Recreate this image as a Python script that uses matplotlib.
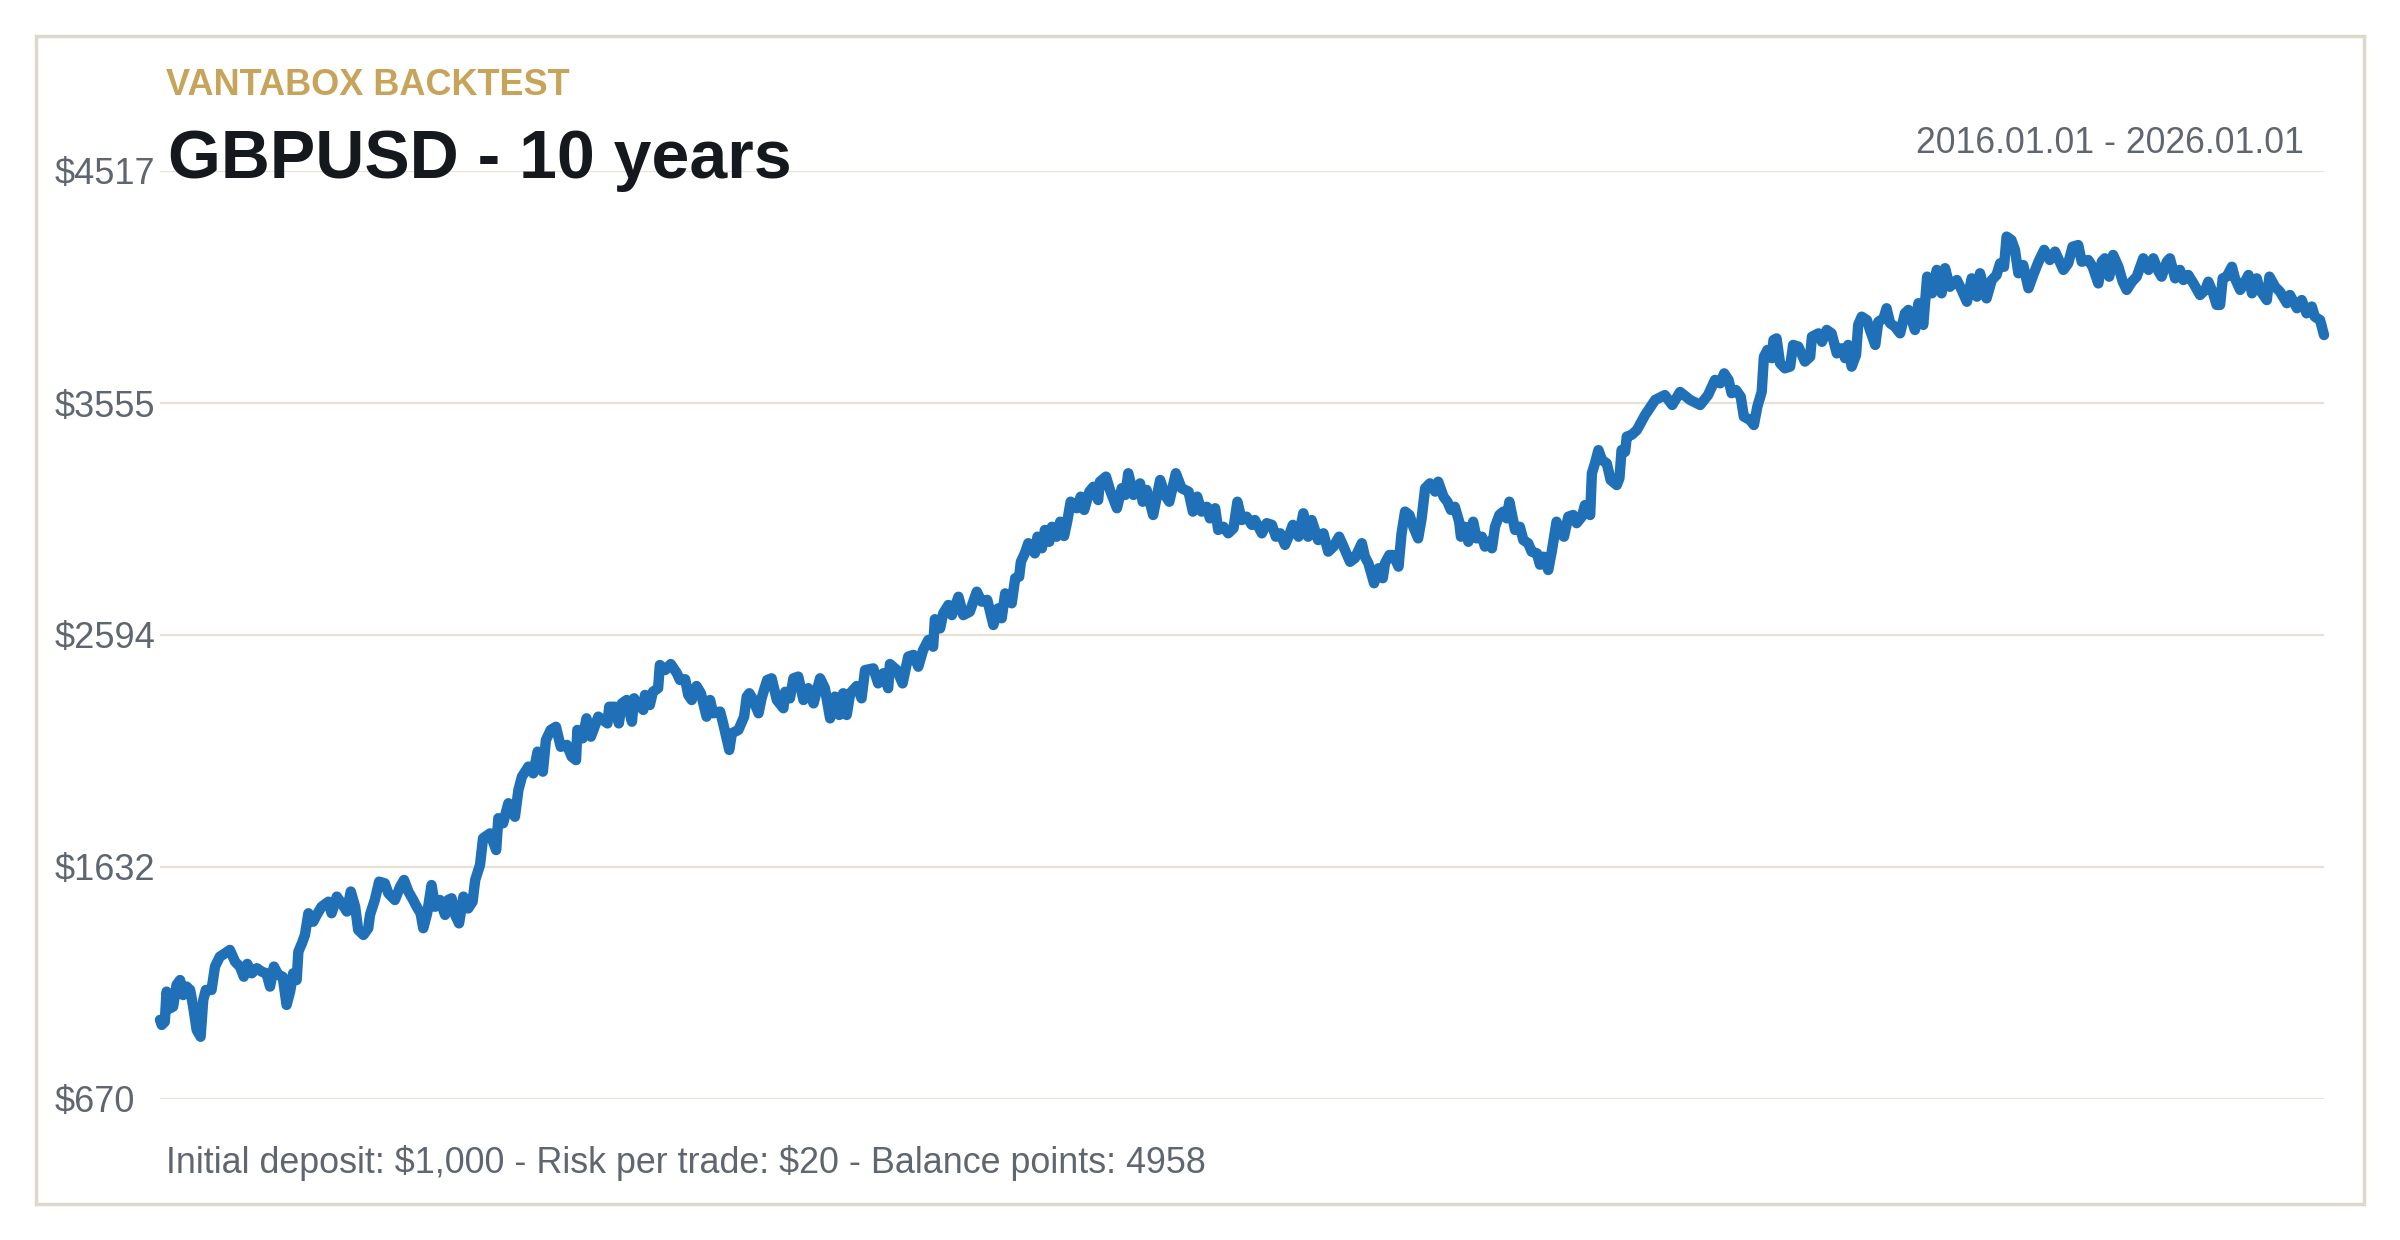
"""
GBPUSD backtest balance curve
"""

import matplotlib
matplotlib.use("Agg")
import matplotlib.pyplot as plt
from matplotlib.patches import Rectangle

plt.rcParams['font.family'] = ['Liberation Sans', 'DejaVu Sans']
plt.rcParams['text.parse_math'] = False   # keep the "$" signs literal

######################################
# data
######################################
trade_idx = [
    0, 4, 11, 15, 23, 30, 38, 46, 53, 61,
    69, 76, 84, 93, 99, 105, 118, 126, 137, 149,
    160, 172, 183, 192, 200, 210, 222, 233, 244, 252,
    261, 271, 281, 290, 298, 305, 313, 317, 325, 332,
    340, 351, 359, 370, 386, 393, 405, 416, 428, 437,
    447, 454, 466, 477, 481, 492, 502, 515, 523, 538,
    550, 559, 569, 580, 588, 597, 603, 612, 622, 630,
    641, 653, 660, 668, 676, 685, 695, 706, 716, 722,
    733, 740, 756,
    770, 775, 786, 798, 813, 821, 829, 844, 855, 865,
    877, 884, 895, 907, 918, 932, 943, 953, 956, 968,
    977, 987, 1004, 1015, 1025, 1029, 1042, 1051, 1058, 1069,
    1081, 1086, 1096, 1107, 1111, 1122, 1129, 1141, 1145, 1157,
    1170, 1184, 1191, 1203, 1210, 1218, 1229, 1239, 1252, 1260,
    1267, 1283, 1290, 1304, 1310, 1325, 1338, 1344, 1350, 1359,
    1371, 1378, 1386, 1391, 1401, 1413, 1428, 1432, 1443, 1451,
    1462, 1474, 1485, 1497, 1512, 1523, 1535, 1546, 1556, 1565,
    1573, 1581, 1596, 1607, 1615, 1634, 1645, 1657, 1668, 1672,
    1688, 1701, 1714, 1726, 1737, 1748, 1760, 1771, 1775, 1787,
    1794, 1806, 1814, 1829, 1840, 1855, 1871, 1882, 1895, 1909,
    1920,
    1928, 1936, 1951, 1959, 1968, 1972, 1981, 1989, 2004, 2010,
    2020, 2027, 2037, 2043, 2054, 2062, 2071, 2078, 2086, 2100,
    2109, 2117, 2129, 2138, 2149, 2153, 2167, 2176, 2192, 2203,
    2211, 2218, 2230, 2245, 2251, 2260, 2275, 2291, 2302, 2312,
    2327, 2340, 2356, 2366, 2376, 2386, 2398, 2405, 2417, 2424,
    2436, 2447, 2459, 2468, 2478, 2489, 2501, 2508, 2524, 2535,
    2547, 2556, 2566, 2577, 2585, 2595, 2608, 2619, 2630, 2638,
    2653, 2665, 2676, 2688, 2701, 2711, 2726, 2737,
    2753, 2760, 2768, 2781, 2791, 2801, 2806, 2816, 2825, 2837,
    2844, 2852, 2862, 2871, 2882, 2890, 2898, 2909, 2921, 2928,
    2940, 2949, 2957, 2966, 2976, 2980, 2989, 2997, 3008, 3016,
    3028, 3035, 3043, 3051, 3058, 3068, 3077, 3085, 3091, 3104,
    3115, 3123, 3134, 3142, 3154, 3161, 3169, 3180, 3188, 3199,
    3207, 3216, 3226, 3237, 3245, 3257, 3264, 3276, 3280, 3287,
    3295, 3303, 3314, 3323, 3337, 3343, 3348, 3356, 3360, 3371,
    3383,
    3402, 3425, 3447, 3464, 3482, 3505, 3528, 3546, 3562,
    3574, 3583, 3593, 3600, 3610, 3621, 3628, 3642, 3651, 3659,
    3669, 3674, 3682, 3692, 3696, 3703, 3711, 3722, 3734, 3741,
    3753, 3768, 3780, 3784, 3799, 3807, 3818, 3829, 3841, 3852,
    3860, 3867, 3875, 3885, 3890, 3898, 3910, 3917, 3929, 3936,
    3948, 3955, 3963, 3974,
    3986, 3997, 4005, 4020, 4028, 4039, 4048, 4059, 4070, 4081,
    4089, 4100, 4116, 4127, 4139, 4150, 4162, 4169, 4184, 4196,
    4207, 4215, 4224, 4230, 4241, 4249, 4257, 4268, 4280, 4291,
    4303, 4316, 4329, 4341, 4360, 4371, 4381, 4394, 4402, 4417,
    4427, 4440, 4448, 4455, 4465, 4474, 4486, 4496, 4505, 4517,
    4528, 4543, 4555, 4566, 4578, 4585, 4597, 4604, 4616, 4627,
    4635, 4646, 4658, 4673, 4685, 4692, 4703, 4711, 4719, 4725,
    4734, 4746, 4753, 4765, 4772, 4784, 4792, 4803, 4810, 4826,
    4832, 4845, 4856, 4872, 4879, 4895, 4906, 4917, 4929, 4936,
    4948, 4957,
]

balance = [
    998, 977, 990, 1115, 1046, 1053, 1143, 1163, 1101, 1136,
    1122, 1053, 956, 928, 1080, 1122, 1122, 1219, 1260, 1274,
    1288, 1239, 1219, 1177, 1230, 1191, 1212, 1198, 1191, 1136,
    1219, 1184, 1177, 1060, 1115, 1191, 1163, 1281, 1315, 1350,
    1440, 1405, 1433, 1467, 1488, 1440, 1509, 1481, 1447, 1530,
    1467, 1371, 1350, 1378, 1433, 1495, 1571, 1564, 1523, 1495,
    1550, 1578, 1530, 1495, 1467, 1440, 1378, 1440, 1557, 1467,
    1495, 1433, 1495, 1502, 1433, 1398, 1509, 1460, 1488, 1578,
    1640, 1751, 1771,
    1702, 1834, 1813, 1896, 1840, 1951, 2006, 2048, 2020, 2110,
    2027, 2158, 2200, 2213, 2130, 2138, 2089, 2075, 2200, 2165,
    2248, 2172, 2255, 2241, 2227, 2296, 2296, 2227, 2310, 2324,
    2234, 2331, 2303, 2283, 2345, 2303, 2358, 2373, 2469, 2448,
    2473, 2435, 2407, 2410, 2345, 2324, 2382, 2352, 2255, 2324,
    2269, 2276, 2227, 2117, 2186, 2200, 2255, 2338, 2352, 2324,
    2269, 2331, 2379, 2407, 2414, 2324, 2290, 2358, 2331, 2414,
    2421, 2324, 2373, 2310, 2414, 2373, 2248, 2338, 2262, 2352,
    2262, 2352, 2382, 2331, 2448, 2455, 2393, 2435, 2373, 2473,
    2448, 2393, 2504, 2511, 2462, 2531, 2573, 2545, 2659, 2621,
    2683, 2718, 2676, 2752, 2676, 2690, 2773, 2732, 2739, 2635,
    2704,
    2663, 2766, 2725, 2829, 2835, 2897, 2932, 2974, 2932, 3001,
    2953, 3029, 2980, 3042, 3001, 3063, 3004, 3063, 3146, 3119,
    3167, 3112, 3188, 3208, 3153, 3229, 3250, 3195, 3119, 3202,
    3174, 3264, 3174, 3222, 3146, 3195, 3091, 3236, 3174, 3146,
    3264, 3202, 3188, 3105, 3167, 3105, 3125, 3077, 3119, 3029,
    3042, 3015, 3036, 3146, 3070, 3084, 3050, 3070, 3015, 3057,
    3050, 3001, 3015, 2967, 3001, 3050, 3001, 3098, 3001, 3070,
    2987, 3015, 2939, 2960, 3001, 2960, 2897, 2912,
    2974, 2918, 2891, 2808, 2870, 2829, 2891, 2925, 2925, 2877,
    3015, 3105, 3091, 3042, 2994, 3077, 3202, 3222, 3188, 3229,
    3167, 3146, 3112, 3125, 3063, 3001, 3042, 2980, 3063, 2994,
    3001, 2960, 2980, 2953, 3042, 3091, 3105, 3077, 3146, 3029,
    3042, 2987, 2974, 2939, 2932, 2885, 2918, 2863, 2939, 3063,
    3015, 3001, 3084, 3091, 3057, 3084, 3132, 3091, 3264, 3305,
    3360, 3319, 3305, 3236, 3215, 3243, 3360, 3353, 3416, 3423,
    3443,
    3506, 3568, 3588, 3547, 3601, 3568, 3547, 3588, 3651,
    3637, 3678, 3651, 3596, 3609, 3581, 3499, 3485, 3464, 3540,
    3602, 3747, 3775, 3741, 3816, 3823, 3720, 3699, 3706, 3796,
    3789, 3727, 3747, 3830, 3844, 3809, 3858, 3844, 3761, 3782,
    3741, 3796, 3706, 3754, 3879, 3913, 3899, 3858, 3796, 3892,
    3906, 3948, 3886, 3872,
    3844, 3927, 3941, 3858, 3969, 3879, 4079, 4010, 4107, 4010,
    4114, 4037, 4065, 4024, 3975, 4072, 3996, 4093, 3989, 4065,
    4086, 4134, 4120, 4245, 4231, 4190, 4093, 4127, 4031, 4086,
    4141, 4190, 4148, 4183, 4107, 4134, 4203, 4210, 4141, 4148,
    4120, 4051, 4141, 4155, 4079, 4169, 4120, 4058, 4024, 4058,
    4079, 4155, 4107, 4155, 4100, 4079, 4141, 4155, 4072, 4107,
    4065, 4086, 4051, 4003, 4024, 4058, 4010, 3962, 3962, 4072,
    4079, 4120, 4072, 4024, 4044, 4086, 4010, 4072, 4024, 3982,
    4079, 4037, 4017, 3969, 4003, 3948, 3982, 3927, 3955, 3913,
    3899, 3837,
]

y_ticks = [670, 1632, 2594, 3555, 4517]
y_labels = ["$670", "$1632", "$2594", "$3555", "$4517"]

brand = "VANTABOX BACKTEST"
title = "GBPUSD - 10 years"
period = "2016.01.01 - 2026.01.01"
footer = "Initial deposit: $1,000 - Risk per trade: $20 - Balance points: 4958"

#######################################
# figure
#######################################
W, H = 2400, 1240
fig = plt.figure(figsize=(W / 100, H / 100), dpi=100)
fig.patch.set_facecolor('white')

ax = fig.add_axes([160 / W, 141 / H, 2164 / W, 928 / H])
ax.plot(trade_idx, balance, color='#2070b8', linewidth=7.5,
        solid_joinstyle='round', solid_capstyle='round', clip_on=False, zorder=3)
ax.set_xlim(0, 4957)
ax.set_ylim(670, 4517)
ax.set_xticks([])
ax.set_yticks(y_ticks)
ax.set_yticklabels(y_labels)
ax.grid(axis='y', color='#e6e2d6', linewidth=1.6)
ax.set_axisbelow(True)
for s in ax.spines.values():
    s.set_visible(False)
ax.tick_params(axis='y', length=0, pad=75.6, labelsize=26, labelcolor='#5f6670')
for lab in ax.get_yticklabels():
    lab.set_horizontalalignment('left')

# header and footer texts
fig.text(166 / W, 1 - 95 / H, brand, fontsize=26, fontweight='bold',
         color='#c8a45a', va='baseline', ha='left')
fig.text(168 / W, 1 - 178 / H, title, fontsize=49, fontweight='bold',
         color='#15191e', va='baseline', ha='left')
fig.text(2304 / W, 1 - 153 / H, period, fontsize=25.7,
         color='#5f6670', va='baseline', ha='right')
fig.text(166 / W, 1 - 1173 / H, footer, fontsize=25.8,
         color='#5f6670', va='baseline', ha='left')

# card border
fig.patches.append(Rectangle((36 / W, 36 / H), 2328 / W, 1168 / H,
                             transform=fig.transFigure, fill=False,
                             edgecolor='#dcd8cc', linewidth=2.5))

fig.savefig("out.png", dpi=100)
